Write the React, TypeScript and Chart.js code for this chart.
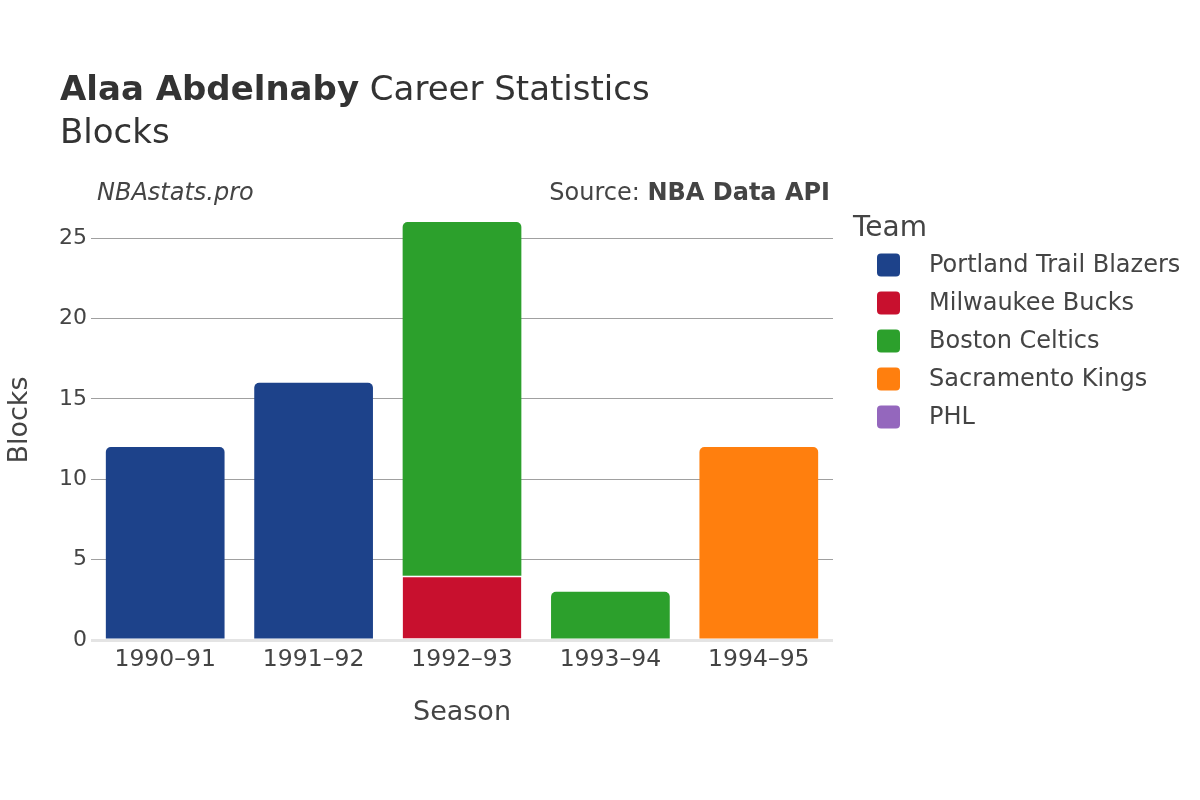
import React, { useEffect, useRef } from "react";
import { Chart, registerables } from "chart.js";

Chart.register(...registerables);

const seasons = ["1990–91", "1991–92", "1992–93", "1993–94", "1994–95"];
const teams = ["Portland Trail Blazers", "Milwaukee Bucks", "Boston Celtics", "Sacramento Kings", "PHL"];
const teamColors = ["#1D428A", "#C8102E", "#2CA02C", "#FF7F0E", "#9467BD"];
const portland = [12, 16, null, null, null];
const milwaukee = [null, null, 4, null, null];
const boston = [null, null, 22, 3, null];
const sacramento = [null, null, null, null, 12];
const phl = [null, null, null, null, null];
const yTicks = [0, 5, 10, 15, 20, 25];
const yMax = 27.37;

const FONT = "'DejaVu Sans', sans-serif";

export default function App() {
  const ref = useRef<HTMLCanvasElement | null>(null);

  useEffect(() => {
    document.body.style.margin = "0";
    const series = [portland, milwaukee, boston, sacramento, phl];
    const isTop = (di: number, idx: number) => {
      for (let k = di + 1; k < series.length; k++) {
        const v = series[k][idx];
        if (v !== null && v !== 0) return false;
      }
      return true;
    };

    const textPlugin = {
      id: "texts",
      afterDraw(chart: any) {
        const ctx = chart.ctx;
        ctx.save();
        ctx.fillStyle = "#333";
        ctx.textAlign = "left";
        ctx.textBaseline = "alphabetic";
        ctx.font = `bold 34px ${FONT}`;
        const bold = "Alaa Abdelnaby";
        ctx.fillText(bold, 60, 100);
        const w = ctx.measureText(bold).width;
        ctx.font = `34px ${FONT}`;
        ctx.fillText(" Career Statistics", 60 + w, 100);
        ctx.fillText("Blocks", 60, 143);

        ctx.font = `italic 24px ${FONT}`;
        ctx.fillStyle = "#444";
        ctx.fillText("NBAstats.pro", 97, 200);

        ctx.textAlign = "right";
        ctx.font = `bold 24px ${FONT}`;
        const src = "NBA Data API";
        ctx.fillText(src, 830, 200);
        const sw = ctx.measureText(src).width;
        ctx.font = `24px ${FONT}`;
        ctx.fillText("Source: ", 830 - sw, 200);

        ctx.fillStyle = "#444";
        ctx.textAlign = "center";
        ctx.font = `27px ${FONT}`;
        ctx.fillText("Season", (chart.chartArea.left + chart.chartArea.right) / 2, 720);
        ctx.save();
        ctx.translate(27, 420);
        ctx.rotate(-Math.PI / 2);
        ctx.fillText("Blocks", 0, 0);
        ctx.restore();

        // legend
        ctx.textAlign = "left";
        ctx.font = `28px ${FONT}`;
        ctx.fillStyle = "#444";
        ctx.fillText("Team", 853, 236);
        ctx.font = `24px ${FONT}`;
        ctx.textBaseline = "middle";
        chart.data.datasets.forEach((ds: any, i: number) => {
          const cy = 265 + i * 38;
          ctx.fillStyle = ds.backgroundColor;
          ctx.beginPath();
          (ctx as any).roundRect(877, cy - 11.5, 23, 23, 4);
          ctx.fill();
          ctx.fillStyle = "#444";
          ctx.fillText(ds.label, 929, cy + 1);
        });
        ctx.restore();
      },
    };

    const chart = new Chart(ref.current as HTMLCanvasElement, {
      type: "bar",
      data: {
        labels: seasons,
        datasets: series.map((d, i) => ({
          label: teams[i],
          data: d,
          backgroundColor: teamColors[i],
          borderColor: "rgba(255,255,255,0.7)",
          borderWidth: i === 1 ? { top: 1.5, left: 0, right: 0, bottom: 0 } : 0,
          borderSkipped: "start",
          borderRadius: (c: any) =>
            isTop(c.datasetIndex, c.dataIndex)
              ? { topLeft: 5, topRight: 5, bottomLeft: 0, bottomRight: 0 }
              : 0,
          barPercentage: 0.8,
          categoryPercentage: 1.0,
        })),
      },
      options: {
        animation: false,
        responsive: true,
        maintainAspectRatio: false,
        layout: { padding: { top: 200, right: 367, bottom: 0, left: 0 } },
        plugins: { legend: { display: false }, tooltip: { enabled: false }, title: { display: false } },
        scales: {
          x: {
            stacked: true,
            grid: { display: false },
            border: { display: false },
            ticks: { color: "#444", font: { family: FONT, size: 23.5 }, padding: -2, maxRotation: 0 },
            afterFit: (s: any) => {
              s.height = 160;
            },
          },
          y: {
            stacked: true,
            min: 0,
            max: yMax,
            border: { display: false },
            grid: {
              drawTicks: false,
              color: (c: any) => (c.tick && c.tick.value === 0 ? "#e4e4e4" : "#a0a0a0"),
              lineWidth: (c: any) => (c.tick && c.tick.value === 0 ? 3 : 1),
            },
            ticks: { color: "#444", font: { family: FONT, size: 22 }, padding: 4 },
            afterBuildTicks: (s: any) => {
              s.ticks = yTicks.map((v) => ({ value: v }));
            },
            afterFit: (s: any) => {
              s.width = 91;
            },
          },
        },
      },
      plugins: [textPlugin],
    });
    return () => chart.destroy();
  }, []);

  return (
    <div style={{ position: "fixed", left: 0, top: 0, width: 1200, height: 800, background: "#fff" }}>
      <canvas ref={ref} />
    </div>
  );
}
